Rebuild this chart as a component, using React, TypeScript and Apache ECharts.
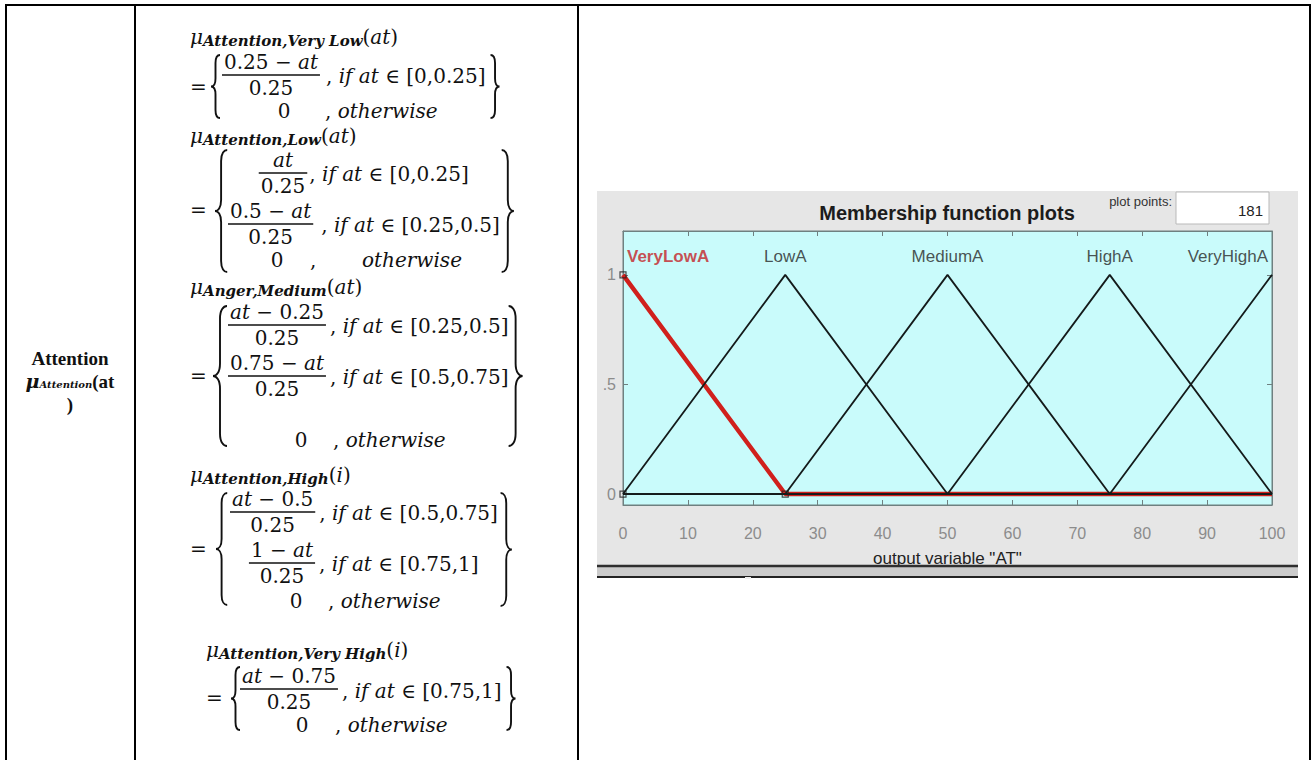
import { useEffect, useRef } from "react";
import * as echarts from "echarts";

// ---------- data ----------
const mfNames = ["VeryLowA", "LowA", "MediumA", "HighA", "VeryHighA"];
const mfBreakX = [0, 25, 50, 75, 100];
const veryLowA = [1, 0, 0, 0, 0];
const lowA = [0, 1, 0, 0, 0];
const mediumA = [0, 0, 1, 0, 0];
const highA = [0, 0, 0, 1, 0];
const veryHighA = [0, 0, 0, 0, 1];
const mfLabelX = [0, 25, 50, 75, 100];
const mfLabelLevel = 1.085;
const vertexX = [0, 0, 25];
const vertexY = [1, 0, 0];
const xMin = 0;
const xMax = 100;
const xStep = 10;
const yMin = -0.05;
const yMax = 1.2;
const yTickValues = [0, 0.5, 1];
const yTickLabels = ["0", ".5", "1"];
const plotTitle = "Membership function plots";
const plotPointsLabel = "plot points:";
const plotPointsValue = "181";
const xAxisTitle = 'output variable "AT"';
const rowTitle = "Attention";

// ---------- fonts / colours ----------
const MATH = '"DejaVu Serif", serif';
const LS = '"Liberation Sans", Arial, sans-serif';
const LSERIF = '"Liberation Serif", "Times New Roman", serif';
const INK = "#111111";
const FS = 20;

type Seg = { t: string; it?: boolean; bd?: boolean; fs?: number; dy?: number; ff?: string };

const mctx = document.createElement("canvas").getContext("2d") as CanvasRenderingContext2D;
function segW(s: Seg): number {
  mctx.font = `${s.it ? "italic" : "normal"} ${s.bd ? "bold" : "normal"} ${s.fs ?? FS}px ${s.ff ?? MATH}`;
  return mctx.measureText(s.t).width;
}
function runW(segs: Seg[]): number {
  return segs.reduce((a, s) => a + segW(s), 0);
}
function m(str: string, fs = FS): Seg[] {
  return str
    .split("|")
    .map((t, i) => ({ t, it: i % 2 === 1, fs }))
    .filter((s) => s.t.length > 0);
}
function put(els: any[], x: number, y: number, segs: Seg[], anchor: "left" | "center" | "right" = "left"): number {
  const w = runW(segs);
  let cx = anchor === "left" ? x : anchor === "center" ? x - w / 2 : x - w;
  for (const s of segs) {
    const full = segW(s);
    const trimmed = s.t.replace(/^\s+/, "");
    const lead = segW({ ...s, t: s.t.slice(0, s.t.length - trimmed.length) });
    const vis = trimmed.replace(/\s+$/, "");
    if (vis.length) {
      els.push({
        type: "text",
        x: cx + lead,
        y: y + (s.dy ?? 0),
        silent: true,
        style: {
          text: vis,
          fontFamily: s.ff ?? MATH,
          fontSize: s.fs ?? FS,
          fontStyle: s.it ? "italic" : "normal",
          fontWeight: s.bd ? "bold" : "normal",
          fill: INK,
          align: "left",
          verticalAlign: "middle",
        },
      });
    }
    cx += full;
  }
  return w;
}
// fraction; returns right edge
function frac(els: any[], x: number, barY: number, num: string, den: string, center = false): number {
  const ns = m(num);
  const ds = m(den);
  const w = Math.max(runW(ns), runW(ds)) + 4;
  const left = center ? x - w / 2 : x;
  put(els, left + w / 2, barY - 13, ns, "center");
  put(els, left + w / 2, barY + 13, ds, "center");
  els.push({
    type: "line",
    silent: true,
    shape: { x1: left, y1: barY, x2: left + w, y2: barY },
    style: { stroke: INK, lineWidth: 1.4 },
  });
  return left + w;
}
let braceCount = 0;
function brace(els: any[], xc: number, top: number, bot: number, dir: 1 | -1) {
  const h = bot - top;
  const wAbs = Math.max(9, Math.min(14, h * 0.1));
  const w = wAbs * dir;
  const r = Math.min(wAbs * 0.9, h / 5);
  const mid = (top + bot) / 2;
  const xs = xc + w / 2;
  const xe = xc + w;
  const d =
    `M${xe} ${top} C${(xs + xe) / 2} ${top} ${xs} ${top + r * 0.3} ${xs} ${top + r} ` +
    `L${xs} ${mid - r} C${xs} ${mid - r * 0.3} ${(xs + xc) / 2} ${mid} ${xc} ${mid} ` +
    `C${(xs + xc) / 2} ${mid} ${xs} ${mid + r * 0.3} ${xs} ${mid + r} ` +
    `L${xs} ${bot - r} C${xs} ${bot - r * 0.3} ${(xs + xe) / 2} ${bot} ${xe} ${bot}`;
  const name = "mathBrace" + braceCount++;
  echarts.graphic.registerShape(name, echarts.graphic.extendPath(d, {}) as any);
  els.push({ type: name, silent: true, style: { fill: "none", stroke: INK, lineWidth: 1.9 } });
}
function header(els: any[], x: number, y: number, sub: string, arg: string) {
  put(els, x, y, [
    { t: "μ", it: true, fs: FS },
    { t: sub, it: true, bd: true, fs: 15, dy: 4 },
    { t: "(", fs: FS },
    { t: arg, it: true, fs: FS },
    { t: ")", fs: FS },
  ]);
}

function buildFormulas(): any[] {
  const els: any[] = [];
  braceCount = 0;
  // Block 1 : Very Low
  header(els, 190, 37, "Attention,Very Low", "at");
  put(els, 190, 87, m("="));
  brace(els, 211, 55, 118, 1);
  let r = frac(els, 222, 75, "0.25 − |at|", "0.25");
  let e1 = r + 6 + put(els, r + 6, 76, m(", |if at| ∈ [0,0.25]"));
  put(els, 284, 111, m("0"), "center");
  put(els, r + 5, 111, m(", |otherwise|"));
  brace(els, e1 + 14, 55, 118, -1);

  // Block 2 : Low
  header(els, 190, 136, "Attention,Low", "at");
  put(els, 190, 210, m("="));
  brace(els, 215, 150, 272, 1);
  r = frac(els, 283, 173, "|at|", "0.25", true);
  e1 = r + 2 + put(els, r + 2, 174, m(", |if at| ∈ [0,0.25]"));
  r = frac(els, 228, 224, "0.5 − |at|", "0.25");
  let e2 = r + 8 + put(els, r + 8, 225, m(", |if at| ∈ [0.25,0.5]"));
  put(els, 277, 260, m("0"), "center");
  put(els, 310, 260, m(","));
  put(els, 362, 260, m("|otherwise|"));
  brace(els, Math.max(e1, e2) + 14, 150, 272, -1);

  // Block 3 : Medium
  header(els, 190, 287, "Anger,Medium", "at");
  put(els, 190, 376, m("="));
  brace(els, 213, 306, 446, 1);
  r = frac(els, 228, 325, "|at| − 0.25", "0.25");
  e1 = r + 4 + put(els, r + 4, 326, m(", |if at| ∈ [0.25,0.5]"));
  r = frac(els, 228, 376, "0.75 − |at|", "0.25");
  e2 = r + 4 + put(els, r + 4, 377, m(", |if at| ∈ [0.5,0.75]"));
  put(els, 301, 440, m("0"), "center");
  put(els, 333, 440, m(", |otherwise|"));
  brace(els, Math.max(e1, e2) + 14, 306, 446, -1);

  // Block 4 : High
  header(els, 190, 475, "Attention,High", "i");
  put(els, 190, 549, m("="));
  brace(els, 216, 493, 605, 1);
  r = frac(els, 230, 512, "|at| − 0.5", "0.25");
  e1 = r + 4 + put(els, r + 4, 513, m(", |if at| ∈ [0.5,0.75]"));
  r = frac(els, 282, 563, "1 − |at|", "0.25", true);
  e2 = r + 4 + put(els, r + 4, 564, m(", |if at| ∈ [0.75,1]"));
  put(els, 296, 601, m("0"), "center");
  put(els, 328, 601, m(", |otherwise|"));
  brace(els, Math.max(e1, e2) + 14, 493, 606, -1);

  // Block 5 : Very High
  header(els, 206, 650, "Attention,Very High", "i");
  put(els, 206, 698, m("="));
  brace(els, 231, 667, 730, 1);
  r = frac(els, 240, 689, "|at| − 0.75", "0.25");
  e1 = r + 4 + put(els, r + 4, 691, m(", |if at| ∈ [0.75,1]"));
  put(els, 302, 725, m("0"), "center");
  put(els, 335, 725, m(", |otherwise|"));
  brace(els, e1 + 14, 667, 730, -1);

  // first column
  put(els, 70, 358, [{ t: rowTitle, bd: true, fs: 19, ff: LSERIF }], "center");
  put(
    els,
    70,
    381,
    [
      { t: "μ", it: true, bd: true, fs: 19 },
      { t: "Attention", it: true, bd: true, fs: 10, dy: 3 },
      { t: "(at", bd: true, fs: 19, ff: LSERIF },
    ],
    "center"
  );
  put(els, 70, 404, [{ t: ")", bd: true, fs: 19, ff: LSERIF }], "center");
  return els;
}

function tableLines(): any[] {
  const ln = (x1: number, y1: number, x2: number, y2: number) => ({
    type: "line",
    silent: true,
    shape: { x1, y1, x2, y2 },
    style: { stroke: "#000", lineWidth: 2 },
  });
  return [ln(5, 5, 1311, 5), ln(6, 4, 6, 760), ln(135, 4, 135, 760), ln(578, 4, 578, 760), ln(1310, 4, 1310, 760)];
}

function panelGraphics(): any[] {
  return [
    { type: "rect", z: -10, silent: true, shape: { x: 597, y: 191, width: 701, height: 375 }, style: { fill: "#e6e6e6" } },
    {
      type: "rect",
      silent: true,
      shape: { x: 1176, y: 192, width: 93, height: 32 },
      style: { fill: "#ffffff", stroke: "#b9b9b9", lineWidth: 1 },
    },
    {
      type: "text",
      silent: true,
      x: 1172,
      y: 201,
      style: { text: plotPointsLabel, fontFamily: LS, fontSize: 13, fill: "#333", align: "right", verticalAlign: "middle" },
    },
    {
      type: "text",
      silent: true,
      x: 1263,
      y: 210,
      style: { text: plotPointsValue, fontFamily: LS, fontSize: 15, fill: "#222", align: "right", verticalAlign: "middle" },
    },
    {
      type: "text",
      silent: true,
      x: 947,
      y: 213,
      style: {
        text: plotTitle,
        fontFamily: LS,
        fontSize: 20,
        fontWeight: "bold",
        fill: "#1c1c1c",
        align: "center",
        verticalAlign: "middle",
      },
    },
    { type: "rect", z: 50, silent: true, shape: { x: 597, y: 567, width: 701, height: 10 }, style: { fill: "#cbcbcb" } },
    {
      type: "line",
      z: 51,
      silent: true,
      shape: { x1: 597, y1: 566, x2: 1298, y2: 566 },
      style: { stroke: "#2e2e2e", lineWidth: 2.5 },
    },
    {
      type: "line",
      z: 51,
      silent: true,
      shape: { x1: 597, y1: 577, x2: 1298, y2: 577 },
      style: { stroke: "#222", lineWidth: 2 },
    },
    { type: "rect", z: 52, silent: true, shape: { x: 745, y: 577, width: 6, height: 2 }, style: { fill: "#eeeeee" } },
  ];
}

const AXIS_C = "#6f8080";
const LABEL_C = "#8c8c8c";

function buildOption(): any {
  const pts = (ys: number[]) => mfBreakX.map((x, i) => [x, ys[i]]);
  const blackSets = [lowA, mediumA, highA, veryHighA];
  const axisCommon = {
    type: "value",
    splitLine: { show: false },
    axisLine: { show: true, onZero: false, lineStyle: { color: AXIS_C, width: 1 } },
    axisTick: { show: true, inside: true, length: 5, lineStyle: { color: AXIS_C } },
  };
  return {
    animation: false,
    backgroundColor: "#ffffff",
    grid: {
      left: 623,
      top: 231,
      width: 649,
      height: 274,
      show: true,
      backgroundColor: "#c9fbfb",
      borderColor: AXIS_C,
      borderWidth: 1,
      outerBoundsMode: "none",
      containLabel: false,
    },
    xAxis: [
      {
        ...axisCommon,
        min: xMin,
        max: xMax,
        interval: xStep,
        position: "bottom",
        name: xAxisTitle,
        nameLocation: "middle",
        nameGap: 45,
        nameTextStyle: { fontFamily: LS, fontSize: 17, color: "#222" },
        axisLabel: { color: LABEL_C, fontSize: 16, fontFamily: LS, margin: 20 },
      },
      {
        ...axisCommon,
        min: xMin,
        max: xMax,
        interval: xStep,
        position: "top",
        axisLabel: { show: false },
      },
    ],
    yAxis: [
      {
        ...axisCommon,
        min: yMin,
        max: yMax,
        position: "left",
        axisTick: { ...axisCommon.axisTick, customValues: yTickValues },
        axisLabel: {
          customValues: yTickValues,
          formatter: (v: number) => {
            const k = yTickValues.findIndex((t) => Math.abs(t - v) < 1e-9);
            return k >= 0 ? yTickLabels[k] : "";
          },
          color: LABEL_C,
          fontSize: 16,
          fontFamily: LS,
          margin: 7,
        },
      },
      {
        ...axisCommon,
        min: yMin,
        max: yMax,
        position: "right",
        axisTick: { ...axisCommon.axisTick, customValues: yTickValues },
        axisLabel: { show: false },
      },
    ],
    series: [
      {
        type: "line",
        name: mfNames[0],
        data: pts(veryLowA),
        symbol: "none",
        silent: true,
        z: 3,
        lineStyle: { color: "#d0201c", width: 4.4 },
      },
      ...blackSets.map((ys, k) => ({
        type: "line",
        name: mfNames[k + 1],
        data: pts(ys),
        symbol: "none",
        silent: true,
        z: 4,
        lineStyle: { color: "#141a1a", width: 1.8 },
      })),
      {
        type: "scatter",
        name: "vertices",
        data: vertexX.map((x, i) => [x, vertexY[i]]),
        symbol: "rect",
        symbolSize: 6,
        silent: true,
        z: 6,
        itemStyle: { color: "rgba(0,0,0,0)", borderColor: "#202020", borderWidth: 1.2 },
      },
      {
        type: "scatter",
        name: "mfLabels",
        silent: true,
        z: 6,
        symbolSize: 1,
        itemStyle: { color: "rgba(0,0,0,0)" },
        data: mfLabelX.map((x, i) => ({
          value: [x, mfLabelLevel],
          label:
            i === 0
              ? { align: "left", offset: [4, 0], color: "#c41f26", fontWeight: "bold" }
              : i === mfNames.length - 1
              ? { align: "right", offset: [-4, 0] }
              : {},
        })),
        label: {
          show: true,
          position: "inside",
          formatter: (p: any) => mfNames[p.dataIndex],
          fontFamily: LS,
          fontSize: 17,
          color: "#262626",
        },
      },
    ],
    graphic: { elements: [...panelGraphics(), ...tableLines(), ...buildFormulas()] },
  };
}

export default function App() {
  const ref = useRef<HTMLDivElement>(null);
  useEffect(() => {
    if (!ref.current) return;
    const chart = echarts.init(ref.current, undefined, { renderer: "svg", width: 1314, height: 760 });
    chart.setOption(buildOption());
    return () => chart.dispose();
  }, []);
  return (
    <div
      ref={ref}
      style={{ position: "absolute", left: 0, top: 0, width: 1314, height: 760, background: "#fff" }}
    />
  );
}
